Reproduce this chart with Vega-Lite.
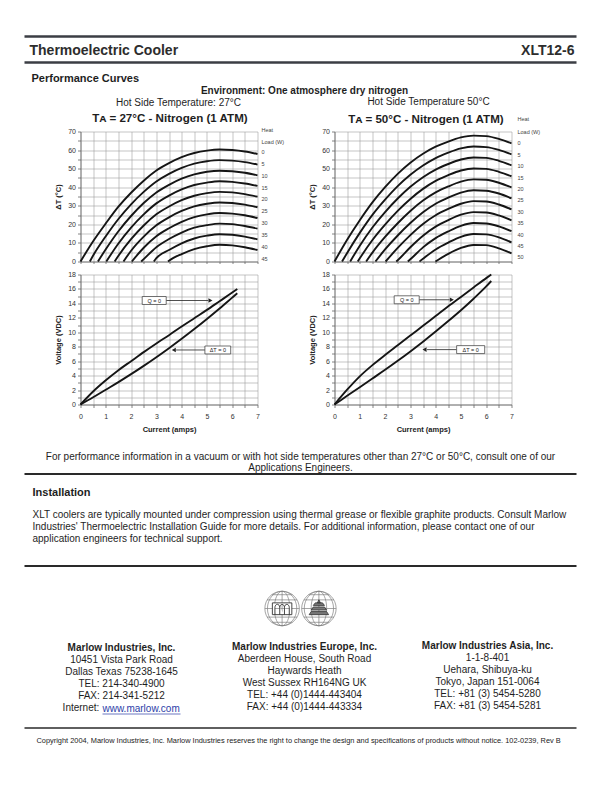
{
  "padding": {"left": 22.5, "top": 34.5, "right": 0, "bottom": 0},
  "background": "white",
  "bounds": "flush",
  "spacing": 0,
  "config": {
    "font": "Liberation Sans",
    "view": {"stroke": null},
    "axis": {"labelFontSize": 7, "labelColor": "#333", "titleFontSize": 7.5, "titleFontWeight": "bold", "titleColor": "#222", "gridColor": "#a0a0a0", "gridWidth": 0.6, "gridOpacity": 1, "domainColor": "#666", "domainWidth": 0.8, "tickColor": "#666", "tickWidth": 0.8, "tickSize": 3, "labelPadding": 2, "labelOverlap": false, "labelFlush": false, "labelBound": false},
    "title": {"color": "#1e1e1e", "subtitleColor": "#1e1e1e", "font": "Liberation Sans", "subtitleFont": "Liberation Sans"}
  },
  "datasets": {
    "hdr": [{"edge": "top"}, {"edge": "bottom"}],
    "hdrText": [{"side": "left", "text": "Thermoelectric Cooler"}, {"side": "right", "text": "XLT12-6"}],
    "ruleRow": [{"r": "rule"}],
    "logo": [{"globe": "W"}, {"globe": "E"}],
    "dtL": [
      {"q":0,"i":0,"t":0},{"q":0,"i":0.5,"t":10.9},{"q":0,"i":1,"t":20.5},{"q":0,"i":1.5,"t":29.5},{"q":0,"i":2,"t":37},{"q":0,"i":2.5,"t":43.5},{"q":0,"i":3,"t":49},{"q":0,"i":3.5,"t":53},{"q":0,"i":4,"t":56.2},{"q":0,"i":4.5,"t":58.4},{"q":0,"i":5,"t":59.7},{"q":0,"i":5.5,"t":60.3},{"q":0,"i":6,"t":60},{"q":0,"i":6.5,"t":59.2},{"q":0,"i":7,"t":57.9},
      {"q":5,"i":0.37,"t":0},{"q":5,"i":0.5,"t":3.2},{"q":5,"i":1,"t":13.6},{"q":5,"i":1.5,"t":22.9},{"q":5,"i":2,"t":30.8},{"q":5,"i":2.5,"t":37.5},{"q":5,"i":3,"t":43.1},{"q":5,"i":3.5,"t":47.2},{"q":5,"i":4,"t":50.4},{"q":5,"i":4.5,"t":52.7},{"q":5,"i":5,"t":54},{"q":5,"i":5.5,"t":54.6},{"q":5,"i":6,"t":54.3},{"q":5,"i":6.5,"t":53.5},{"q":5,"i":7,"t":52.2},
      {"q":10,"i":0.69,"t":0},{"q":10,"i":1,"t":6.6},{"q":10,"i":1.5,"t":16.3},{"q":10,"i":2,"t":24.5},{"q":10,"i":2.5,"t":31.5},{"q":10,"i":3,"t":37.2},{"q":10,"i":3.5,"t":41.3},{"q":10,"i":4,"t":44.6},{"q":10,"i":4.5,"t":46.9},{"q":10,"i":5,"t":48.3},{"q":10,"i":5.5,"t":48.9},{"q":10,"i":6,"t":48.6},{"q":10,"i":6.5,"t":47.8},{"q":10,"i":7,"t":46.4},
      {"q":15,"i":1.02,"t":0},{"q":15,"i":1.5,"t":9.7},{"q":15,"i":2,"t":18.3},{"q":15,"i":2.5,"t":25.4},{"q":15,"i":3,"t":31.3},{"q":15,"i":3.5,"t":35.5},{"q":15,"i":4,"t":38.8},{"q":15,"i":4.5,"t":41.2},{"q":15,"i":5,"t":42.5},{"q":15,"i":5.5,"t":43.2},{"q":15,"i":6,"t":42.9},{"q":15,"i":6.5,"t":42},{"q":15,"i":7,"t":40.7},
      {"q":20,"i":1.35,"t":0},{"q":20,"i":1.5,"t":3.1},{"q":20,"i":2,"t":12},{"q":20,"i":2.5,"t":19.4},{"q":20,"i":3,"t":25.4},{"q":20,"i":3.5,"t":29.6},{"q":20,"i":4,"t":33},{"q":20,"i":4.5,"t":35.4},{"q":20,"i":5,"t":36.8},{"q":20,"i":5.5,"t":37.5},{"q":20,"i":6,"t":37.2},{"q":20,"i":6.5,"t":36.3},{"q":20,"i":7,"t":34.9},
      {"q":25,"i":1.7,"t":0},{"q":25,"i":2,"t":5.8},{"q":25,"i":2.5,"t":13.4},{"q":25,"i":3,"t":19.5},{"q":25,"i":3.5,"t":23.8},{"q":25,"i":4,"t":27.2},{"q":25,"i":4.5,"t":29.7},{"q":25,"i":5,"t":31.1},{"q":25,"i":5.5,"t":31.8},{"q":25,"i":6,"t":31.5},{"q":25,"i":6.5,"t":30.6},{"q":25,"i":7,"t":29.2},
      {"q":30,"i":2.03,"t":0},{"q":30,"i":2.5,"t":7.4},{"q":30,"i":3,"t":13.6},{"q":30,"i":3.5,"t":17.9},{"q":30,"i":4,"t":21.4},{"q":30,"i":4.5,"t":23.9},{"q":30,"i":5,"t":25.4},{"q":30,"i":5.5,"t":26.1},{"q":30,"i":6,"t":25.8},{"q":30,"i":6.5,"t":24.9},{"q":30,"i":7,"t":23.4},
      {"q":35,"i":2.4,"t":0},{"q":35,"i":2.5,"t":1.3},{"q":35,"i":3,"t":7.7},{"q":35,"i":3.5,"t":12.1},{"q":35,"i":4,"t":15.6},{"q":35,"i":4.5,"t":18.2},{"q":35,"i":5,"t":19.6},{"q":35,"i":5.5,"t":20.4},{"q":35,"i":6,"t":20.1},{"q":35,"i":6.5,"t":19.1},{"q":35,"i":7,"t":17.7},
      {"q":40,"i":2.9,"t":0},{"q":40,"i":3,"t":1.8},{"q":40,"i":3.5,"t":6.2},{"q":40,"i":4,"t":9.8},{"q":40,"i":4.5,"t":12.4},{"q":40,"i":5,"t":13.9},{"q":40,"i":5.5,"t":14.7},{"q":40,"i":6,"t":14.4},{"q":40,"i":6.5,"t":13.4},{"q":40,"i":7,"t":11.9},
      {"q":45,"i":3.46,"t":0},{"q":45,"i":3.5,"t":0.4},{"q":45,"i":4,"t":4},{"q":45,"i":4.5,"t":6.7},{"q":45,"i":5,"t":8.2},{"q":45,"i":5.5,"t":9},{"q":45,"i":6,"t":8.7},{"q":45,"i":6.5,"t":7.7},{"q":45,"i":7,"t":6.2}
    ],
    "dtR": [
      {"q":0,"i":0,"t":0},{"q":0,"i":0.5,"t":11.7},{"q":0,"i":1,"t":22.2},{"q":0,"i":1.5,"t":31.8},{"q":0,"i":2,"t":40},{"q":0,"i":2.5,"t":47.2},{"q":0,"i":3,"t":53.2},{"q":0,"i":3.5,"t":58},{"q":0,"i":4,"t":61.8},{"q":0,"i":4.5,"t":64.6},{"q":0,"i":5,"t":66.8},{"q":0,"i":5.5,"t":67.8},{"q":0,"i":6,"t":67.5},{"q":0,"i":6.5,"t":66},{"q":0,"i":7,"t":63.6},
      {"q":5,"i":0.3,"t":0},{"q":5,"i":0.5,"t":4.6},{"q":5,"i":1,"t":15.4},{"q":5,"i":1.5,"t":25.1},{"q":5,"i":2,"t":33.3},{"q":5,"i":2.5,"t":40.6},{"q":5,"i":3,"t":46.7},{"q":5,"i":3.5,"t":51.7},{"q":5,"i":4,"t":55.7},{"q":5,"i":4.5,"t":58.6},{"q":5,"i":5,"t":60.9},{"q":5,"i":5.5,"t":61.9},{"q":5,"i":6,"t":61.6},{"q":5,"i":6.5,"t":60.1},{"q":5,"i":7,"t":57.7},
      {"q":10,"i":0.62,"t":0},{"q":10,"i":1,"t":8.5},{"q":10,"i":1.5,"t":18.3},{"q":10,"i":2,"t":26.6},{"q":10,"i":2.5,"t":33.9},{"q":10,"i":3,"t":40.2},{"q":10,"i":3.5,"t":45.4},{"q":10,"i":4,"t":49.5},{"q":10,"i":4.5,"t":52.5},{"q":10,"i":5,"t":54.9},{"q":10,"i":5.5,"t":56},{"q":10,"i":6,"t":55.8},{"q":10,"i":6.5,"t":54.2},{"q":10,"i":7,"t":51.8},
      {"q":15,"i":0.92,"t":0},{"q":15,"i":1,"t":1.7},{"q":15,"i":1.5,"t":11.6},{"q":15,"i":2,"t":19.9},{"q":15,"i":2.5,"t":27.3},{"q":15,"i":3,"t":33.7},{"q":15,"i":3.5,"t":39.1},{"q":15,"i":4,"t":43.4},{"q":15,"i":4.5,"t":46.5},{"q":15,"i":5,"t":49},{"q":15,"i":5.5,"t":50.1},{"q":15,"i":6,"t":49.9},{"q":15,"i":6.5,"t":48.3},{"q":15,"i":7,"t":45.9},
      {"q":20,"i":1.25,"t":0},{"q":20,"i":1.5,"t":4.8},{"q":20,"i":2,"t":13.2},{"q":20,"i":2.5,"t":20.6},{"q":20,"i":3,"t":27.2},{"q":20,"i":3.5,"t":32.8},{"q":20,"i":4,"t":37.2},{"q":20,"i":4.5,"t":40.4},{"q":20,"i":5,"t":43},{"q":20,"i":5.5,"t":44.2},{"q":20,"i":6,"t":44},{"q":20,"i":6.5,"t":42.4},{"q":20,"i":7,"t":39.9},
      {"q":25,"i":1.62,"t":0},{"q":25,"i":2,"t":6.5},{"q":25,"i":2.5,"t":14},{"q":25,"i":3,"t":20.7},{"q":25,"i":3.5,"t":26.5},{"q":25,"i":4,"t":31.1},{"q":25,"i":4.5,"t":34.4},{"q":25,"i":5,"t":37.1},{"q":25,"i":5.5,"t":38.4},{"q":25,"i":6,"t":38.1},{"q":25,"i":6.5,"t":36.6},{"q":25,"i":7,"t":34},
      {"q":30,"i":2.02,"t":0},{"q":30,"i":2.5,"t":7.3},{"q":30,"i":3,"t":14.2},{"q":30,"i":3.5,"t":20.2},{"q":30,"i":4,"t":24.9},{"q":30,"i":4.5,"t":28.3},{"q":30,"i":5,"t":31.1},{"q":30,"i":5.5,"t":32.5},{"q":30,"i":6,"t":32.3},{"q":30,"i":6.5,"t":30.7},{"q":30,"i":7,"t":28.1},
      {"q":35,"i":2.44,"t":0},{"q":35,"i":2.5,"t":0.7},{"q":35,"i":3,"t":7.7},{"q":35,"i":3.5,"t":13.9},{"q":35,"i":4,"t":18.8},{"q":35,"i":4.5,"t":22.3},{"q":35,"i":5,"t":25.2},{"q":35,"i":5.5,"t":26.6},{"q":35,"i":6,"t":26.4},{"q":35,"i":6.5,"t":24.8},{"q":35,"i":7,"t":22.2},
      {"q":40,"i":2.9,"t":0},{"q":40,"i":3,"t":1.2},{"q":40,"i":3.5,"t":7.6},{"q":40,"i":4,"t":12.6},{"q":40,"i":4.5,"t":16.2},{"q":40,"i":5,"t":19.2},{"q":40,"i":5.5,"t":20.7},{"q":40,"i":6,"t":20.5},{"q":40,"i":6.5,"t":18.9},{"q":40,"i":7,"t":16.3},
      {"q":45,"i":3.36,"t":0},{"q":45,"i":3.5,"t":1.5},{"q":45,"i":4,"t":6.5},{"q":45,"i":4.5,"t":10.2},{"q":45,"i":5,"t":13.3},{"q":45,"i":5.5,"t":14.8},{"q":45,"i":6,"t":14.6},{"q":45,"i":6.5,"t":13},{"q":45,"i":7,"t":10.3},
      {"q":50,"i":3.99,"t":0},{"q":50,"i":4.5,"t":4.1},{"q":50,"i":5,"t":7.3},{"q":50,"i":5.5,"t":8.9},{"q":50,"i":6,"t":8.8},{"q":50,"i":6.5,"t":7.1},{"q":50,"i":7,"t":4.4}
    ],
    "loadL": [
      {"t":"Heat","v":70.8},{"t":"Load (W)","v":64.4},{"t":"0","v":58.7},{"t":"5","v":52.4},{"t":"10","v":46},{"t":"15","v":39.7},{"t":"20","v":33.4},{"t":"25","v":27},{"t":"30","v":20.7},{"t":"35","v":14.3},{"t":"40","v":8},{"t":"45","v":1.6}
    ],
    "loadR": [
      {"t":"Heat","v":76.5},{"t":"Load (W)","v":70},{"t":"0","v":63.7},{"t":"5","v":57.5},{"t":"10","v":51.4},{"t":"15","v":45.2},{"t":"20","v":39.1},{"t":"25","v":32.9},{"t":"30","v":26.8},{"t":"35","v":20.6},{"t":"40","v":14.5},{"t":"45","v":8.3},{"t":"50","v":2.2}
    ],
    "vL": [
      {"s":"Q = 0","i":0,"v":0},{"s":"Q = 0","i":0.5,"v":1.8},{"s":"Q = 0","i":1,"v":3.35},{"s":"Q = 0","i":1.5,"v":4.75},{"s":"Q = 0","i":2,"v":6},{"s":"Q = 0","i":2.5,"v":7.25},{"s":"Q = 0","i":3,"v":8.45},{"s":"Q = 0","i":3.5,"v":9.6},{"s":"Q = 0","i":4,"v":10.8},{"s":"Q = 0","i":4.5,"v":11.95},{"s":"Q = 0","i":5,"v":13.1},{"s":"Q = 0","i":5.5,"v":14.3},{"s":"Q = 0","i":6,"v":15.5},{"s":"Q = 0","i":6.2,"v":16},
      {"s":"ΔT = 0","i":0,"v":0},{"s":"ΔT = 0","i":0.5,"v":1},{"s":"ΔT = 0","i":1,"v":2.05},{"s":"ΔT = 0","i":1.5,"v":3.1},{"s":"ΔT = 0","i":2,"v":4.2},{"s":"ΔT = 0","i":2.5,"v":5.35},{"s":"ΔT = 0","i":3,"v":6.55},{"s":"ΔT = 0","i":3.5,"v":7.8},{"s":"ΔT = 0","i":4,"v":9.1},{"s":"ΔT = 0","i":4.5,"v":10.45},{"s":"ΔT = 0","i":5,"v":11.85},{"s":"ΔT = 0","i":5.5,"v":13.3},{"s":"ΔT = 0","i":6,"v":14.8},{"s":"ΔT = 0","i":6.2,"v":15.4}
    ],
    "vR": [
      {"s":"Q = 0","i":0,"v":0},{"s":"Q = 0","i":0.5,"v":2.05},{"s":"Q = 0","i":1,"v":3.9},{"s":"Q = 0","i":1.5,"v":5.45},{"s":"Q = 0","i":2,"v":6.85},{"s":"Q = 0","i":2.5,"v":8.2},{"s":"Q = 0","i":3,"v":9.55},{"s":"Q = 0","i":3.5,"v":10.9},{"s":"Q = 0","i":4,"v":12.25},{"s":"Q = 0","i":4.5,"v":13.6},{"s":"Q = 0","i":5,"v":14.9},{"s":"Q = 0","i":5.5,"v":16.2},{"s":"Q = 0","i":6,"v":17.5},{"s":"Q = 0","i":6.2,"v":18},
      {"s":"ΔT = 0","i":0,"v":0},{"s":"ΔT = 0","i":0.5,"v":1.2},{"s":"ΔT = 0","i":1,"v":2.4},{"s":"ΔT = 0","i":1.5,"v":3.6},{"s":"ΔT = 0","i":2,"v":4.8},{"s":"ΔT = 0","i":2.5,"v":6.05},{"s":"ΔT = 0","i":3,"v":7.35},{"s":"ΔT = 0","i":3.5,"v":8.7},{"s":"ΔT = 0","i":4,"v":10.1},{"s":"ΔT = 0","i":4.5,"v":11.55},{"s":"ΔT = 0","i":5,"v":13.05},{"s":"ΔT = 0","i":5.5,"v":14.65},{"s":"ΔT = 0","i":6,"v":16.35},{"s":"ΔT = 0","i":6.2,"v":17.1}
    ],
    "annL": [
      {"label":"Q = 0","cx":2.915,"cy":14.4,"bx1":2.44,"bx2":3.39,"by1":13.85,"by2":14.95,"ax1":3.39,"ax2":5.05,"tip":5.14,"dir":"right"},
      {"label":"ΔT = 0","cx":5.43,"cy":7.55,"bx1":4.92,"bx2":5.94,"by1":7,"by2":8.1,"ax1":3.78,"ax2":4.92,"tip":3.69,"dir":"left"}
    ],
    "annR": [
      {"label":"Q = 0","cx":2.855,"cy":14.5,"bx1":2.36,"bx2":3.35,"by1":13.95,"by2":15.05,"ax1":3.35,"ax2":4.55,"tip":4.64,"dir":"right"},
      {"label":"ΔT = 0","cx":5.385,"cy":7.6,"bx1":4.83,"bx2":5.94,"by1":7.05,"by2":8.15,"ax1":3.66,"ax2":4.83,"tip":3.56,"dir":"left"}
    ]
  },
  "vconcat": [
    {
      "width": 552, "height": 26,
      "layer": [
        {"data": {"name": "hdr"}, "mark": {"type": "rule", "color": "#3b3e44", "strokeWidth": 2.5},
         "encoding": {"y": {"field": "edge", "type": "nominal", "scale": {"type": "point", "domain": ["top", "bottom"], "padding": 0}, "axis": null}}},
        {"data": {"name": "hdrText"}, "transform": [{"filter": "datum.side == 'left'"}],
         "mark": {"type": "text", "align": "left", "baseline": "middle", "fontSize": 14, "fontWeight": "bold", "color": "#2d2d2d", "dx": 5, "dy": 1},
         "encoding": {"x": {"field": "side", "type": "nominal", "scale": {"type": "point", "domain": ["left", "right"], "padding": 0}, "axis": null}, "text": {"field": "text"}}},
        {"data": {"name": "hdrText"}, "transform": [{"filter": "datum.side == 'right'"}],
         "mark": {"type": "text", "align": "right", "baseline": "middle", "fontSize": 14, "fontWeight": "bold", "color": "#2d2d2d", "dx": -2, "dy": 1},
         "encoding": {"x": {"field": "side", "type": "nominal", "scale": {"type": "point", "domain": ["left", "right"], "padding": 0}, "axis": null}, "text": {"field": "text"}}}
      ]
    },
    {
      "width": 552, "height": 69, "data": {"values": []}, "mark": "point",
      "title": {"text": "Performance Curves", "anchor": "start", "frame": "group", "dx": 7, "offset": -21, "fontSize": 11, "fontWeight": "bold"}
    },
    {
      "bounds": "flush", "spacing": 0,
      "title": {"text": "Environment:  One atmosphere dry nitrogen", "fontSize": 10, "fontWeight": "bold", "frame": "group", "anchor": "start", "align": "center", "dx": 280, "offset": 1},
      "hconcat": [
        {"width": 56, "height": 1, "data": {"values": []}, "mark": "point"},
        {
          "bounds": "flush", "spacing": 13,
          "title": {"text": "Hot Side Temperature: 27°C", "fontSize": 10, "fontWeight": "normal", "frame": "group", "anchor": "start", "align": "center", "dx": 98, "offset": 5},
          "vconcat": [
            {
              "width": 177, "height": 130,
              "title": {"text": "Tᴀ = 27°C - Nitrogen (1 ATM)", "fontSize": 11.6, "fontWeight": "bold", "frame": "group", "anchor": "middle", "dx": 1, "offset": 3},
              "layer": [
                {"data": {"name": "dtL"}, "mark": {"type": "line", "color": "#151515", "strokeWidth": 1.9, "interpolate": "monotone"},
                 "encoding": {
                   "x": {"field": "i", "type": "quantitative", "scale": {"domain": [0, 7], "nice": false},
                         "axis": {"values": [0,0.5,1,1.5,2,2.5,3,3.5,4,4.5,5,5.5,6,6.5,7], "tickCount": 100, "labels": false, "title": null, "grid": true, "tickSize": 2}},
                   "y": {"field": "t", "type": "quantitative", "scale": {"domain": [0, 70], "nice": false},
                         "axis": {"values": [0,5,10,15,20,25,30,35,40,45,50,55,60,65,70], "tickCount": 100, "labelExpr": "datum.value % 10 === 0 ? '' + datum.value : ''", "title": "ΔT (°C)", "grid": true, "titlePadding": 5}},
                   "detail": {"field": "q", "type": "nominal"}
                 }},
                {"data": {"name": "loadL"}, "mark": {"type": "text", "align": "left", "baseline": "middle", "dx": 4, "fontSize": 5.5, "color": "#444"},
                 "encoding": {
                   "x": {"datum": 7, "type": "quantitative", "scale": {"domain": [0, 7], "nice": false}},
                   "y": {"field": "v", "type": "quantitative", "scale": {"domain": [0, 70], "nice": false}},
                   "text": {"field": "t"}
                 }}
              ]
            },
            {
              "width": 177, "height": 130,
              "layer": [
                {"data": {"name": "vL"}, "mark": {"type": "line", "color": "#151515", "strokeWidth": 1.9, "interpolate": "monotone"},
                 "encoding": {
                   "x": {"field": "i", "type": "quantitative", "scale": {"domain": [0, 7], "nice": false},
                         "axis": {"values": [0,0.5,1,1.5,2,2.5,3,3.5,4,4.5,5,5.5,6,6.5,7], "tickCount": 100, "labelExpr": "datum.value % 1 === 0 ? '' + datum.value : ''", "title": "Current (amps)", "grid": true, "labelPadding": 5, "titlePadding": 6}},
                   "y": {"field": "v", "type": "quantitative", "scale": {"domain": [0, 18], "nice": false},
                         "axis": {"values": [0,1,2,3,4,5,6,7,8,9,10,11,12,13,14,15,16,17,18], "tickCount": 100, "labelExpr": "datum.value % 2 === 0 ? '' + datum.value : ''", "title": "Voltage (VDC)", "grid": true, "titlePadding": 5}},
                   "detail": {"field": "s", "type": "nominal"}
                 }},
                {"data": {"name": "annL"}, "mark": {"type": "rule", "color": "#222", "strokeWidth": 0.8},
                 "encoding": {"x": {"field": "ax1", "type": "quantitative", "scale": {"domain": [0, 7], "nice": false}}, "x2": {"field": "ax2"}, "y": {"field": "cy", "type": "quantitative", "scale": {"domain": [0, 18], "nice": false}}}},
                {"data": {"name": "annL"}, "mark": {"type": "point", "filled": true, "color": "#222", "size": 22, "opacity": 1},
                 "encoding": {"x": {"field": "tip", "type": "quantitative", "scale": {"domain": [0, 7], "nice": false}}, "y": {"field": "cy", "type": "quantitative", "scale": {"domain": [0, 18], "nice": false}},
                              "shape": {"field": "dir", "type": "nominal", "scale": {"domain": ["right", "left"], "range": ["triangle-right", "triangle-left"]}, "legend": null}}},
                {"data": {"name": "annL"}, "mark": {"type": "rect", "fill": "white", "stroke": "#333", "strokeWidth": 0.7},
                 "encoding": {"x": {"field": "bx1", "type": "quantitative", "scale": {"domain": [0, 7], "nice": false}}, "x2": {"field": "bx2"}, "y": {"field": "by1", "type": "quantitative", "scale": {"domain": [0, 18], "nice": false}}, "y2": {"field": "by2"}}},
                {"data": {"name": "annL"}, "mark": {"type": "text", "fontSize": 5.5, "color": "#222", "baseline": "middle"},
                 "encoding": {"x": {"field": "cx", "type": "quantitative", "scale": {"domain": [0, 7], "nice": false}}, "y": {"field": "cy", "type": "quantitative", "scale": {"domain": [0, 18], "nice": false}}, "text": {"field": "label"}}}
              ]
            }
          ]
        },
        {"width": 254, "height": 1, "data": {"values": []}, "mark": "point"},
        {
          "bounds": "flush", "spacing": 13,
          "title": {"text": "Hot Side Temperature 50°C", "fontSize": 10, "fontWeight": "normal", "frame": "group", "anchor": "start", "align": "center", "dx": 94, "offset": 7},
          "vconcat": [
            {
              "width": 177, "height": 130,
              "title": {"text": "Tᴀ = 50°C - Nitrogen (1 ATM)", "fontSize": 11.6, "fontWeight": "bold", "frame": "group", "anchor": "middle", "dx": 3, "offset": -8},
              "layer": [
                {"data": {"name": "dtR"}, "mark": {"type": "line", "color": "#151515", "strokeWidth": 1.9, "interpolate": "monotone"},
                 "encoding": {
                   "x": {"field": "i", "type": "quantitative", "scale": {"domain": [0, 7], "nice": false},
                         "axis": {"values": [0,0.5,1,1.5,2,2.5,3,3.5,4,4.5,5,5.5,6,6.5,7], "tickCount": 100, "labels": false, "title": null, "grid": true, "tickSize": 2}},
                   "y": {"field": "t", "type": "quantitative", "scale": {"domain": [0, 70], "nice": false},
                         "axis": {"values": [0,5,10,15,20,25,30,35,40,45,50,55,60,65,70], "tickCount": 100, "labelExpr": "datum.value % 10 === 0 ? '' + datum.value : ''", "title": "ΔT (°C)", "grid": true, "titlePadding": 5}},
                   "detail": {"field": "q", "type": "nominal"}
                 }},
                {"data": {"name": "loadR"}, "mark": {"type": "text", "align": "left", "baseline": "middle", "dx": 6, "fontSize": 5.5, "color": "#444"},
                 "encoding": {
                   "x": {"datum": 7, "type": "quantitative", "scale": {"domain": [0, 7], "nice": false}},
                   "y": {"field": "v", "type": "quantitative", "scale": {"domain": [0, 70], "nice": false}},
                   "text": {"field": "t"}
                 }}
              ]
            },
            {
              "width": 177, "height": 130,
              "layer": [
                {"data": {"name": "vR"}, "mark": {"type": "line", "color": "#151515", "strokeWidth": 1.9, "interpolate": "monotone"},
                 "encoding": {
                   "x": {"field": "i", "type": "quantitative", "scale": {"domain": [0, 7], "nice": false},
                         "axis": {"values": [0,0.5,1,1.5,2,2.5,3,3.5,4,4.5,5,5.5,6,6.5,7], "tickCount": 100, "labelExpr": "datum.value % 1 === 0 ? '' + datum.value : ''", "title": "Current (amps)", "grid": true, "labelPadding": 5, "titlePadding": 6}},
                   "y": {"field": "v", "type": "quantitative", "scale": {"domain": [0, 18], "nice": false},
                         "axis": {"values": [0,1,2,3,4,5,6,7,8,9,10,11,12,13,14,15,16,17,18], "tickCount": 100, "labelExpr": "datum.value % 2 === 0 ? '' + datum.value : ''", "title": "Voltage (VDC)", "grid": true, "titlePadding": 5}},
                   "detail": {"field": "s", "type": "nominal"}
                 }},
                {"data": {"name": "annR"}, "mark": {"type": "rule", "color": "#222", "strokeWidth": 0.8},
                 "encoding": {"x": {"field": "ax1", "type": "quantitative", "scale": {"domain": [0, 7], "nice": false}}, "x2": {"field": "ax2"}, "y": {"field": "cy", "type": "quantitative", "scale": {"domain": [0, 18], "nice": false}}}},
                {"data": {"name": "annR"}, "mark": {"type": "point", "filled": true, "color": "#222", "size": 22, "opacity": 1},
                 "encoding": {"x": {"field": "tip", "type": "quantitative", "scale": {"domain": [0, 7], "nice": false}}, "y": {"field": "cy", "type": "quantitative", "scale": {"domain": [0, 18], "nice": false}},
                              "shape": {"field": "dir", "type": "nominal", "scale": {"domain": ["right", "left"], "range": ["triangle-right", "triangle-left"]}, "legend": null}}},
                {"data": {"name": "annR"}, "mark": {"type": "rect", "fill": "white", "stroke": "#333", "strokeWidth": 0.7},
                 "encoding": {"x": {"field": "bx1", "type": "quantitative", "scale": {"domain": [0, 7], "nice": false}}, "x2": {"field": "bx2"}, "y": {"field": "by1", "type": "quantitative", "scale": {"domain": [0, 18], "nice": false}}, "y2": {"field": "by2"}}},
                {"data": {"name": "annR"}, "mark": {"type": "text", "fontSize": 5.5, "color": "#222", "baseline": "middle"},
                 "encoding": {"x": {"field": "cx", "type": "quantitative", "scale": {"domain": [0, 7], "nice": false}}, "y": {"field": "cy", "type": "quantitative", "scale": {"domain": [0, 18], "nice": false}}, "text": {"field": "label"}}}
              ]
            }
          ]
        }
      ]
    },
    {"width": 552, "height": 342, "data": {"values": []}, "mark": "point"},
    {
      "width": 552, "height": 1,
      "data": {"name": "ruleRow"}, "mark": {"type": "rule", "color": "#2a2a2a", "strokeWidth": 1.8},
      "encoding": {"y": {"field": "r", "type": "nominal", "scale": {"type": "point"}, "axis": null}},
      "title": {"text": ["For performance information in a vacuum or with hot side temperatures other than 27°C or 50°C, consult one of our", "Applications Engineers."], "anchor": "middle", "frame": "group", "fontSize": 10, "fontWeight": "normal", "lineHeight": 11.5, "offset": 0}
    },
    {"width": 552, "height": 91, "data": {"values": []}, "mark": "point"},
    {
      "width": 552, "height": 1,
      "data": {"name": "ruleRow"}, "mark": {"type": "rule", "color": "#2a2a2a", "strokeWidth": 1.8},
      "encoding": {"y": {"field": "r", "type": "nominal", "scale": {"type": "point"}, "axis": null}},
      "title": {"text": "Installation", "subtitle": ["XLT coolers are typically mounted under compression using thermal grease or flexible graphite products.  Consult Marlow", "Industries' Thermoelectric Installation Guide for more details. For additional information, please contact one of our", "application engineers for technical support."], "anchor": "start", "frame": "group", "dx": 8, "fontSize": 11, "fontWeight": "bold", "subtitleFontSize": 10, "subtitleLineHeight": 12, "subtitlePadding": 12, "offset": 21}
    },
    {"width": 552, "height": 12, "data": {"values": []}, "mark": "point"},
    {
      "width": 552, "height": 60,
      "data": {"name": "logo"},
      "layer": [
        {"mark": {"type": "point", "shape": "M-1,0A1,1,0,1,1,1,0A1,1,0,1,1,-1,0M-0.87,-0.5L0.87,-0.5M-1,0L1,0M-0.87,0.5L0.87,0.5M-0.6,-0.8L0.6,-0.8M-0.6,0.8L0.6,0.8M0,-1L0,1M0,-1A0.45,1,0,0,0,0,1M0,-1A0.45,1,0,0,1,0,1M0,-1A0.85,1,0,0,0,0,1M0,-1A0.85,1,0,0,1,0,1", "size": 1190, "filled": false, "stroke": "#4a4a4a", "strokeWidth": 0.7},
         "encoding": {"x": {"field": "globe", "type": "nominal", "axis": null, "scale": {"type": "point", "padding": 0, "domain": ["a0","a1","a2","a3","a4","a5","a6","W","E","a9","a10","a11","a12","a13","a14","a15"]}}}},
        {"transform": [{"filter": "datum.globe == 'W'"}],
         "mark": {"type": "point", "size": 420, "filled": true, "fill": "white", "stroke": "#333", "strokeWidth": 0.9, "opacity": 1, "shape": "M-0.95,0.6L0.95,0.6L0.95,-0.55L-0.95,-0.55ZM-0.7,0.6L-0.7,-0.1A0.23,0.3,0,0,1,-0.23,-0.1L-0.23,0.6M-0.23,-0.1A0.23,0.3,0,0,1,0.23,-0.1L0.23,0.6M0.23,-0.1A0.23,0.3,0,0,1,0.7,-0.1L0.7,0.6"},
         "encoding": {"x": {"field": "globe", "type": "nominal", "axis": null, "scale": {"type": "point", "padding": 0, "domain": ["a0","a1","a2","a3","a4","a5","a6","W","E","a9","a10","a11","a12","a13","a14","a15"]}}}},
        {"transform": [{"filter": "datum.globe == 'E'"}],
         "mark": {"type": "point", "size": 420, "filled": true, "fill": "#777", "stroke": "#333", "strokeWidth": 0.8, "opacity": 1, "shape": "M-0.95,0.6L0.95,0.6L0.75,0.3L-0.75,0.3ZM-0.75,0.15L0.75,0.15L0.55,-0.15L-0.55,-0.15ZM-0.55,-0.3L0.55,-0.3L0.35,-0.55L-0.35,-0.55ZM-0.15,-0.55L0.15,-0.55L0,-0.85Z"},
         "encoding": {"x": {"field": "globe", "type": "nominal", "axis": null, "scale": {"type": "point", "padding": 0, "domain": ["a0","a1","a2","a3","a4","a5","a6","W","E","a9","a10","a11","a12","a13","a14","a15"]}}}}
      ]
    },
    {
      "bounds": "flush", "spacing": 0,
      "hconcat": [
        {"width": 194, "height": 1, "data": {"values": []}, "mark": "point",
         "title": {"text": "Marlow Industries, Inc.", "subtitle": ["10451 Vista Park Road", "Dallas Texas 75238-1645", "TEL: 214-340-4900", "FAX: 214-341-5212"], "orient": "bottom", "anchor": "middle", "frame": "group", "fontSize": 10, "fontWeight": "bold", "subtitleFontSize": 10, "subtitleLineHeight": 12, "subtitlePadding": 2, "offset": 3}},
        {"width": 172, "height": 1, "data": {"values": []}, "mark": "point",
         "title": {"text": "Marlow Industries Europe, Inc.", "subtitle": ["Aberdeen House, South Road", "Haywards Heath", "West Sussex RH164NG UK", "TEL: +44 (0)1444-443404", "FAX: +44 (0)1444-443334"], "orient": "bottom", "anchor": "middle", "frame": "group", "fontSize": 10, "fontWeight": "bold", "subtitleFontSize": 10, "subtitleLineHeight": 12, "subtitlePadding": 2, "offset": 2}},
        {"width": 194, "height": 1, "data": {"values": []}, "mark": "point",
         "title": {"text": "Marlow Industries Asia, Inc.", "subtitle": ["1-1-8-401", "Uehara, Shibuya-ku", "Tokyo, Japan 151-0064", "TEL: +81 (3) 5454-5280", "FAX: +81 (3) 5454-5281"], "orient": "bottom", "anchor": "middle", "frame": "group", "fontSize": 10, "fontWeight": "bold", "subtitleFontSize": 10, "subtitleLineHeight": 12, "subtitlePadding": 2, "offset": 1}}
      ]
    },
    {"width": 552, "height": 75, "data": {"values": []}, "mark": "point"},
    {
      "bounds": "flush", "spacing": 0,
      "hconcat": [
        {"width": 77.6, "height": 1, "data": {"values": []}, "mark": "point",
         "title": {"text": "Internet:", "anchor": "end", "frame": "group", "dx": -2.8, "fontSize": 10, "fontWeight": "normal", "offset": 0.7}},
        {"width": 78, "height": 1, "data": {"name": "ruleRow"}, "mark": {"type": "rule", "color": "#2b3ea8", "strokeWidth": 0.7},
         "encoding": {"y": {"field": "r", "type": "nominal", "scale": {"type": "point"}, "axis": null}},
         "title": {"text": "www.marlow.com", "anchor": "start", "frame": "group", "fontSize": 10, "fontWeight": "normal", "color": "#2b3ea8", "offset": 0}}
      ]
    },
    {"width": 552, "height": 14, "data": {"values": []}, "mark": "point"},
    {
      "width": 552, "height": 1,
      "data": {"name": "ruleRow"}, "mark": {"type": "rule", "color": "#2a2a2a", "strokeWidth": 1.5},
      "encoding": {"y": {"field": "r", "type": "nominal", "scale": {"type": "point"}, "axis": null}},
      "title": {"text": "Copyright 2004, Marlow Industries, Inc.  Marlow Industries reserves the right to change the design and specifications of products without notice. 102-0239, Rev B", "orient": "bottom", "anchor": "start", "frame": "group", "dx": 12, "fontSize": 7.4, "fontWeight": "normal", "offset": 8, "color": "#222"}
    }
  ]
}
